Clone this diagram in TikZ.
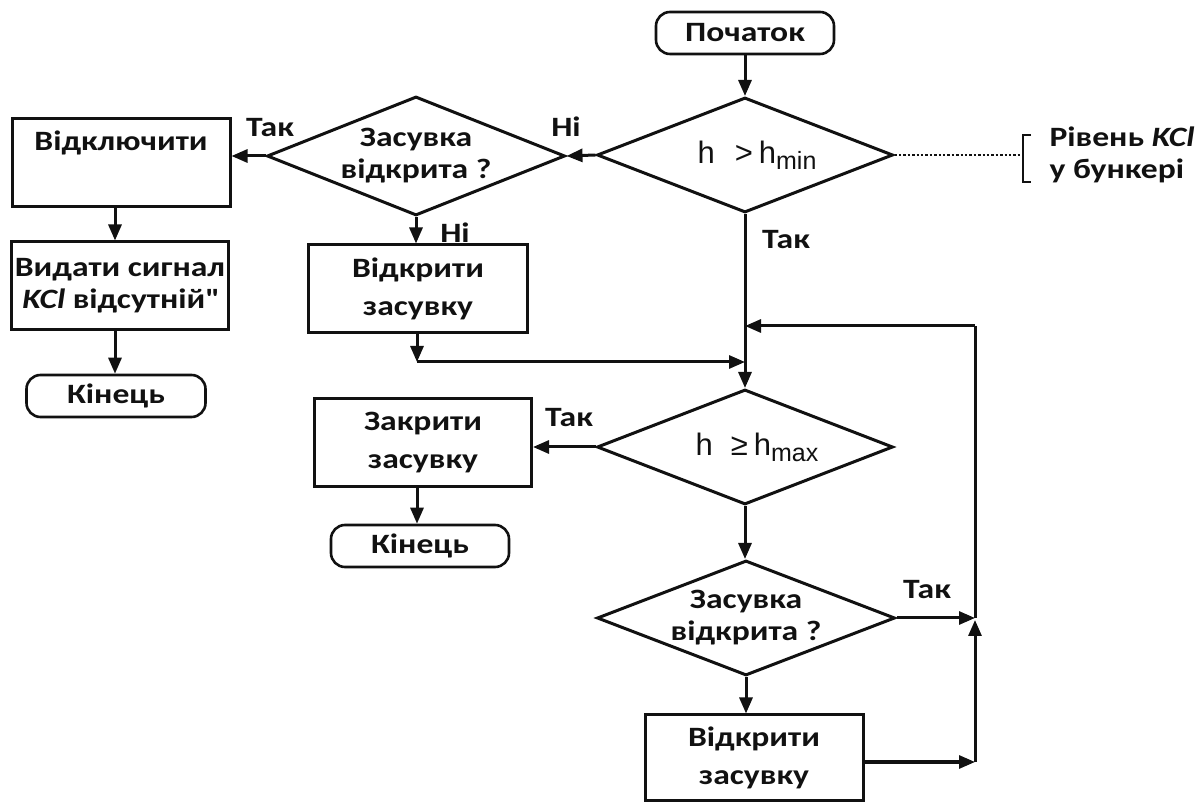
\documentclass[tikz,border=0pt]{standalone}
\usepackage{fontspec}
\setmainfont{Carlito}[FakeStretch=1.2]
\newfontfamily\kcmath{Liberation Sans}
\usetikzlibrary{arrows.meta,calc,positioning,shapes.geometric}
\definecolor{kcInk}{HTML}{111111}
\newcommand{\kclow}[1]{\raisebox{-6pt}{\fontsize{25}{25}\selectfont #1}}
\tikzset{
  kc text/.style={font=\fontsize{28}{32}\selectfont\bfseries, text=kcInk},
  kc box/.style={
    kc text, draw=kcInk, line width=3pt,
    minimum width=218pt, minimum height=88pt,
    inner sep=0pt, align=center
  },
  kc term/.style={
    kc text, draw=kcInk, line width=2.6pt, rounded corners=14pt,
    minimum width=178pt, minimum height=42pt, inner sep=0pt
  },
  kc decision/.style={
    kc text, diamond, draw=kcInk, line width=3pt, aspect=2.57,
    minimum width=296pt, minimum height=115pt,
    inner sep=0pt, align=center
  },
  kc flow/.style={
    draw=kcInk, line width=3pt,
    -{Triangle[length=16pt,width=13pt]}
  },
  kc link/.style={draw=kcInk, line width=3pt},
  kc note/.style={draw=kcInk, line width=2.4pt, dotted},
  kc answer/.style={kc text},
  kc formula/.style={font=\kcmath\mdseries\fontsize{31}{34}\selectfont}
}

\begin{document}
\begin{tikzpicture}[x=1pt,y=1pt]
  \useasboundingbox (0,0) rectangle (1200,801);

  % main column
  \node[kc term] (start) at (745,768) {Початок};
  \node[kc decision, kc formula] (dmin) at (745,646)
    {\hspace{24pt}h\hspace{20pt}>\hspace{6pt}h\kclow{min}};
  \node[kc decision, minimum width=298pt, minimum height=119pt] (dopenA) at (416,645)
    {Засувка\\відкрита ?};
  \node[kc box] (off) at (121,638) {Відключити\\[12pt]\mbox{}};
  \node[kc box, minimum width=217pt] (signal) at (120,515)
    {Видати сигнал\\\textit{KCl} відсутній\textquotedbl};
  \node[kc term, minimum width=179pt] (endA) at (116,405) {Кінець};
  \node[kc box, minimum width=219pt] (openA) at (418,512)
    {Відкрити\\[6pt]засувку};

  \node[kc decision, kc formula] (dmax) at (745,354)
    {\hspace{24pt}h\hspace{18pt}≥\hspace{6pt}h\kclow{max}};
  \node[kc box, minimum width=217pt] (close) at (423,358)
    {Закрити\\[6pt]засувку};
  \node[kc term] (endB) at (420,255) {Кінець};
  \node[kc decision, minimum width=298pt] (dopenB) at (746,183)
    {Засувка\\відкрита ?};
  \node[kc box, minimum height=85pt] (openB) at (754,43.5)
    {Відкрити\\[6pt]засувку};

  % side note
  \coordinate (brk) at (1023,646);
  \node[kc text, anchor=west, align=left] (level) at (1046,646)
    {Рівень \textit{KCl}\\у бункері};

  % loop points
  \coordinate (cornerA) at (417,439);
  \coordinate (joinA) at (745,439);
  \coordinate (loopTop) at (975,475);
  \coordinate (joinTop) at (745,475);
  \coordinate (loopMid) at (975,183);
  \coordinate (loopBot) at (975,39);

  % connectors
  \draw[kc flow] (start) -- (dmin);
  \draw[kc flow] (dmin.west) -- (dopenA.east);
  \draw[kc flow] (dopenA.west) -- (off.east |- dopenA.west);
  \draw[kc flow] (dopenA.south) -- (dopenA.south |- openA.north);
  \draw[kc flow] (off.south -| 115,0) -- (signal.north -| 115,0);
  \draw[kc flow] (signal.south -| 115,0) -- (endA.north -| 115,0);
  \draw[kc flow] (openA.south -| cornerA) -- (cornerA);
  \draw[kc flow] (cornerA) -- (joinA);
  \draw[kc flow] (dmin.south) -- (dmax.north);
  \draw[kc flow] (dmax.west) -- (close.east |- dmax.west);
  \draw[kc flow] (close.south -| cornerA) -- (endB.north -| cornerA);
  \draw[kc flow] (dmax.south) -- (dmax.south |- dopenB.north);
  \draw[kc flow] (dopenB.south) -- (dopenB.south |- openB.north);
  \draw[kc flow] (dopenB.east) -- (loopMid);
  \draw[kc flow] (openB.east |- loopBot) -- (loopBot);
  \draw[kc flow] (loopBot) -- ($(loopMid)+(0,-2)$);
  \draw[kc link] (loopMid) -- (loopTop);
  \draw[kc flow] (loopTop) -- (joinTop);
  \draw[kc note] (dmin.east) -- (brk);
  \draw[kc link, line width=2.6pt] (1031,666) -| (1023,619) -- (1031,619);

  % answers
  \node[kc answer] (noA) at (566,674) {Ні};
  \node[kc answer] (yesA) at (270,673) {Так};
  \node[kc answer] (noB) at (455,568) {Ні};
  \node[kc answer] (yesB) at (786,561) {Так};
  \node[kc answer] (yesC) at (569,383) {Так};
  \node[kc answer] (yesD) at (927,211) {Так};
\end{tikzpicture}
\end{document}
